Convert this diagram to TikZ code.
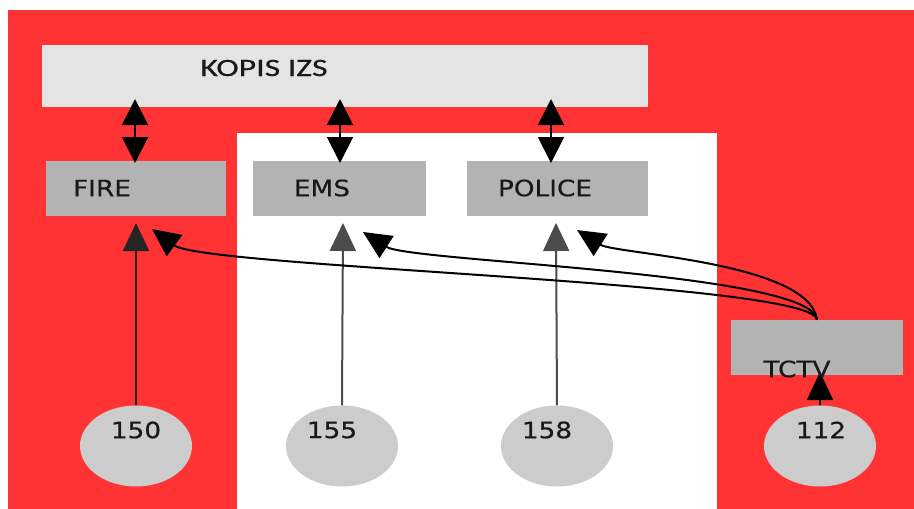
\documentclass[tikz,border=0pt]{standalone}
\usepackage{fontspec}
\newfontfamily\kfont[FakeStretch=1.35,FakeBold=0.6]{Carlito}
\newfontfamily\bfont[FakeStretch=1.17,FakeBold=0.5]{DejaVu Sans}
\usetikzlibrary{arrows.meta,shapes.geometric}
\definecolor{bgred}{HTML}{FF3333}
\definecolor{kgray}{HTML}{E4E4E4}
\definecolor{bgray}{HTML}{B3B3B3}
\definecolor{cgray}{HTML}{CCCCCC}
\tikzset{
  kbox/.style={rectangle,fill=kgray,inner sep=0pt,minimum width=606pt,minimum height=62pt},
  gbox/.style={rectangle,fill=bgray,inner sep=0pt,minimum height=55pt},
  ell/.style={ellipse,fill=cgray,inner sep=0pt,minimum width=112pt,minimum height=81pt},
  ktext/.style={font=\kfont\fontsize{25}{28}\selectfont,text=black!90,inner sep=0pt},
  btext/.style={font=\bfont\fontsize{22.5}{26}\selectfont,text=black!90,inner sep=0pt},
  arr/.style={line width=2pt,-{Triangle[width=26pt,length=28pt]}},
  darr/.style={line width=2pt,{Triangle[width=26pt,length=26pt]}-{Triangle[width=26pt,length=26pt]}},
}
\begin{document}
\begin{tikzpicture}[x=1pt,y=-1pt]
\useasboundingbox (0,0) rectangle (914,509);
\fill[white] (0,0) rectangle (914,509);
\fill[bgred] (8,10) rectangle (914,509);
\fill[white] (237,133) rectangle (717,509);

\node[kbox] (kopis) at (345,76) {};
\node[ktext] (kopist) at (264,68) {KOPIS IZS};

\node[gbox,minimum width=180pt] (fire) at (136,188.5) {};
\node[btext] (firet) at (102,188) {FIRE};
\node[gbox,minimum width=173pt] (ems) at (339.5,188.5) {};
\node[btext] (emst) at (322,188) {EMS};
\node[gbox,minimum width=181pt] (police) at (557.5,188.5) {};
\node[btext] (policet) at (545,188) {POLICE};
\node[gbox,minimum width=172pt] (tctv) at (817,347.5) {};

\node[ell] (c150) at (136,446) {};
\node[btext] (t150) at (136,430) {150};
\node[ell] (c155) at (342,446) {};
\node[btext] (t155) at (332,430) {155};
\node[ell] (c158) at (557,446) {};
\node[btext] (t158) at (547,430) {158};
\node[ell] (c112) at (820,446) {};
\node[btext] (t112) at (821,430) {112};

% double arrows KOPIS <-> units
\coordinate (kf) at (135,99);
\coordinate (fk) at (135,163);
\coordinate (ke) at (340,99);
\coordinate (ek) at (340,163);
\coordinate (kp) at (551,99);
\coordinate (pk) at (551,163);
\draw[darr] (kf) -- (fk);
\draw[darr] (ke) -- (ek);
\draw[darr] (kp) -- (pk);

% vertical arrows from numbers
\coordinate (fin) at (136,223);
\coordinate (ein) at (343,223);
\coordinate (pin) at (556,223);
\coordinate (tin) at (820,372);
\draw[arr,draw=black!85] (c150.north) -- (fin);
\draw[arr,draw=black!70] (c155.north) -- (ein);
\draw[arr,draw=black!70] (c158.north) -- (pin);
\draw[arr] (c112.north) -- (tin);

% curved arrows from TCTV
\coordinate (fcur) at (152,229);
\coordinate (ecur) at (363,232);
\coordinate (pcur) at (577,230);
\draw[arr] (tctv.north) .. controls (815,282) and (205,268) .. (fcur);
\draw[arr] (tctv.north) .. controls (812,272) and (410,262) .. (ecur);
\draw[arr] (tctv.north) .. controls (810,262) and (615,254) .. (pcur);

\node[btext] (tctvt) at (797,369) {TCTV};
\end{tikzpicture}
\end{document}
